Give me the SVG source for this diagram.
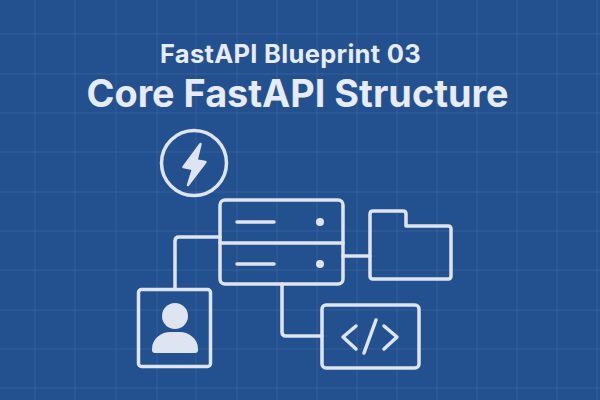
<svg xmlns="http://www.w3.org/2000/svg" width="600" height="400" viewBox="0 0 600 400">
<style>
.g{stroke:#4a70a8;stroke-width:1;fill:none;opacity:.45}
.s{fill:none;stroke:#dfe5f0;stroke-width:3.500;stroke-linejoin:round;stroke-linecap:round}
.f{fill:#dfe5f0}
text{font-family:Inter,"Liberation Sans",sans-serif;fill:#e6ebf4;text-anchor:middle}
</style>
<rect width="600" height="400" fill="#23508f"/>
<g id="grid">
<path class="g" d="M35 0V400M75 0V400M116 0V400M157 0V400M196 0V400M237 0V400M277 0V400M317 0V400M357 0V400M397 0V400M437 0V400M477 0V400M517 0V400M557 0V400M597 0V400"/>
<path class="g" d="M0 34H600M0 74H600M0 113H600M0 152H600M0 192H600M0 231H600M0 270H600M0 310H600M0 349H600M0 388H600"/>
</g>
<g id="titles">
<text x="290.500" y="63" font-size="25.500" font-weight="700" letter-spacing="0.300">FastAPI Blueprint 03</text>
<text x="297.500" y="107" font-size="37.800" font-weight="700">Core FastAPI Structure</text>
</g>
<g id="connectors">
<path class="s" d="M220 237H179Q175 237 175 241V288"/>
<path class="s" d="M343 256H370"/>
<path class="s" d="M282 284V332Q282 336 286 336H322"/>
</g>
<g id="fastapi">
<circle class="s" cx="194" cy="163" r="32.500"/>
<path class="f" stroke="#dfe5f0" stroke-width="2.500" stroke-linejoin="round" d="M200.500 144L183.500 167L193 169L188 185L205.500 162L196.500 160.500Z"/>
</g>
<g id="server">
<rect class="s" x="220" y="200" width="123" height="84" rx="5"/>
<path class="s" d="M220 243H343M237 222H274M237 264H274"/>
<circle class="f" cx="320" cy="222" r="4"/>
<circle class="f" cx="320" cy="264" r="4"/>
</g>
<g id="folder">
<path class="s" d="M373 211H403Q406 211 406 214V226H448Q451 226 451 229V276Q451 279 448 279H373Q370 279 370 276V214Q370 211 373 211Z"/>
</g>
<g id="user">
<rect class="s" x="138.500" y="289.500" width="72" height="77" rx="3"/>
<circle class="f" cx="175" cy="316" r="13"/>
<path class="f" d="M152 349C152 338 162 332 170 332H180C188 332 198 338 198 349V350Q198 353 195 353H155Q152 353 152 350Z"/>
</g>
<g id="code">
<rect class="s" x="322" y="305" width="97" height="63" rx="4"/>
<path class="s" d="M356 326L343 337L356 349M384 326L397 337L384 349M376 320L364 353"/>
</g>
</svg>
